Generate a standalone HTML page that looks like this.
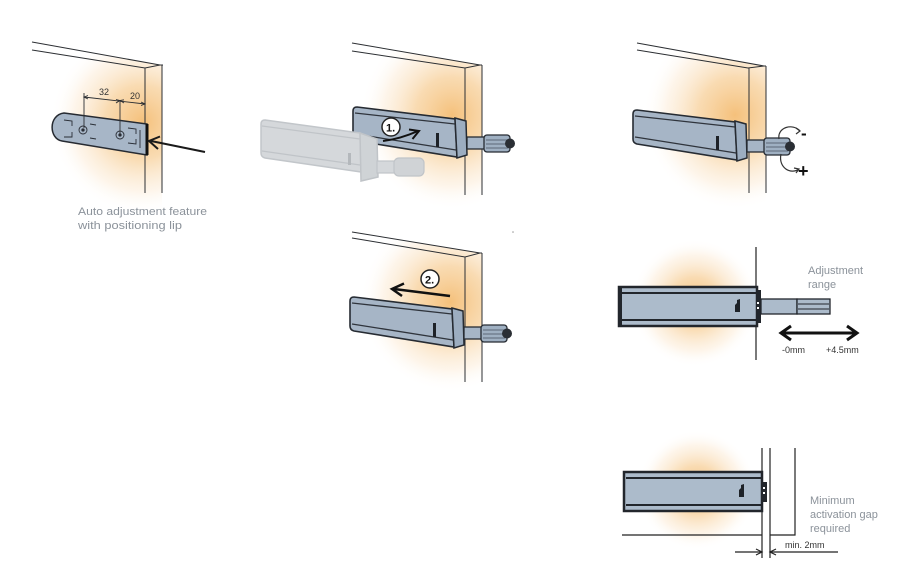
<!DOCTYPE html>
<html><head><meta charset="utf-8">
<style>
html,body{margin:0;padding:0;background:#fff;}
svg{display:block;}
text{font-family:"Liberation Sans",sans-serif;}
</style></head>
<body>
<svg width="900" height="562" viewBox="0 0 900 562" xmlns="http://www.w3.org/2000/svg">
<defs>
  <radialGradient id="glow" cx="50%" cy="50%" r="50%">
    <stop offset="0%" stop-color="#f4bd74" stop-opacity="0.95"/>
    <stop offset="40%" stop-color="#f7cf98" stop-opacity="0.75"/>
    <stop offset="75%" stop-color="#fbe6cb" stop-opacity="0.4"/>
    <stop offset="100%" stop-color="#ffffff" stop-opacity="0"/>
  </radialGradient>
  <clipPath id="c1"><polygon points="0,36 160,65 162,65 162,230 0,230"/></clipPath>
  <clipPath id="c2"><polygon points="250,25 480,65 482,65 482,230 250,230"/></clipPath>
  <clipPath id="c3"><polygon points="560,29 764,66 766,66 766,230 560,230"/></clipPath>
  <clipPath id="c4"><polygon points="250,215 480,253 482,253 482,400 250,400"/></clipPath>
  <clipPath id="c5"><rect x="600" y="230" width="156" height="150"/></clipPath>
  <clipPath id="c6"><rect x="600" y="420" width="162" height="142"/></clipPath>

  <g id="dev">
    <path d="M357,107 L455,119 L457,157 L357,141 Q353,140 353,136 L353,111 Q353,107 357,107 Z" fill="#a6b5c6" stroke="#262b32" stroke-width="1.6"/>
    <path d="M355,113 L455,124" stroke="#2f343c" stroke-width="1.3" fill="none"/>
    <path d="M355,134 L456,150" stroke="#2f343c" stroke-width="1.3" fill="none"/>
    <path d="M455,118 L466,121 L467,155 L457,158 Z" fill="#9cadc0" stroke="#262b32" stroke-width="1.5"/>
    <rect x="436" y="133" width="3" height="14" fill="#1e2228"/>
    <rect x="467" y="137" width="18" height="12" fill="#a6b5c6" stroke="#262b32" stroke-width="1.3"/>
    <rect x="484" y="135" width="26" height="17" rx="3" fill="#9fb0c2" stroke="#262b32" stroke-width="1.3"/>
    <path d="M486,140 L508,140 M486,144 L508,144 M486,148 L508,148" stroke="#4a5260" stroke-width="0.8"/>
    <circle cx="510" cy="143.5" r="5" fill="#2a2e34"/>
  </g>
</defs>

<!-- glows -->
<ellipse cx="142" cy="122" rx="92" ry="92" fill="url(#glow)" clip-path="url(#c1)"/>
<ellipse cx="452" cy="115" rx="92" ry="95" fill="url(#glow)" clip-path="url(#c2)"/>
<ellipse cx="735" cy="115" rx="92" ry="95" fill="url(#glow)" clip-path="url(#c3)"/>
<ellipse cx="450" cy="302" rx="90" ry="90" fill="url(#glow)" clip-path="url(#c4)"/>
<circle cx="695" cy="303" r="64" fill="url(#glow)" clip-path="url(#c5)"/>
<circle cx="697" cy="490" r="60" fill="url(#glow)" clip-path="url(#c6)"/>

<g stroke="#2c2f33" stroke-width="1" fill="none">
  <!-- panel 1 -->
  <path d="M32,42 L160,65 L163,65 M32,50 L145,68 L160,65 M145,68 L145,193 M162,65 L162,193"/>
  <!-- panel 2 -->
  <path d="M352,43 L480,65 L482,65 M352,51 L465,68 L480,65 M465,68 L465,195 M482,65 L482,195"/>
  <!-- panel 3 -->
  <path d="M637,43 L764,66 L766,66 M637,50 L748,68 L764,66 M749,68 L749,193 M766,66 L766,193"/>
  <!-- panel 4 -->
  <path d="M352,232 L480,253 L482,253 M352,238 L465,257 L480,253 M465,257 L465,382 M482,253 L482,382"/>
</g>

<!-- panel 1 plate -->
<path d="M64,113 L147,124 L147,155 L62,141 C49,139 48,115 64,113 Z" fill="#a7b6c7" stroke="#262a31" stroke-width="1.5"/>
<line x1="147" y1="124" x2="147" y2="155" stroke="#111" stroke-width="3"/>
<g stroke="#2a2e36" stroke-width="0.9" fill="none">
  <circle cx="83" cy="130" r="4"/><circle cx="83" cy="130" r="1.2" fill="#2a2e36"/>
  <circle cx="120" cy="135" r="4"/><circle cx="120" cy="135" r="1.2" fill="#2a2e36"/>
  <path d="M64,120 L72,121 L72,126 M64,137 L72,137 L72,132 M90,124 L96,125 M90,138 L96,139"/>
  <path d="M128,128 L136,129 L136,134 M128,143 L136,144 L136,139 M140,130 L140,148"/>
</g>
<g stroke="#2c2f33" stroke-width="0.9" fill="none">
  <path d="M84,93 L84,128 M120,101 L120,135 M84,97 L145,104"/>
  <path d="M88,95.5 L84,97 L88,99 M116,99.5 L120,100.5 L116,103 M124,99.8 L120,100.5 L124,103 M141,102 L145,104 L141,105.5"/>
</g>
<text x="99" y="95" font-size="9" fill="#333">32</text>
<text x="130" y="99" font-size="9" fill="#333">20</text>
<g stroke="#1a1a1a" stroke-width="2" fill="none">
  <path d="M205,152 L151,141"/>
  <polyline points="160,136.5 149,141 158,149"/>
</g>
<text x="78" y="215" font-size="11" fill="#8b929a" textLength="129" lengthAdjust="spacingAndGlyphs">Auto adjustment feature</text>
<text x="78" y="229" font-size="11" fill="#8b929a" textLength="104" lengthAdjust="spacingAndGlyphs">with positioning lip</text>

<!-- panel 2 devices -->
<use href="#dev"/>
<g>
  <path d="M265,120 L360,133 L361,172 L265,158 Q261,157 261,153 L261,124 Q261,120 265,120 Z" fill="#d5d8db" stroke="#c2c6ca" stroke-width="1.5"/>
  <path d="M262,126 L360,139 M262,151 L360,165" stroke="#c0c4c8" stroke-width="1.2"/>
  <path d="M360,133 L377,139 L378,177 L361,181 Z" fill="#cfd3d6" stroke="#c0c4c8" stroke-width="1.5"/>
  <rect x="348" y="153" width="3" height="12" fill="#b4b8bc"/>
  <rect x="377" y="161" width="18" height="12" fill="#d5d8db" stroke="#c0c4c8" stroke-width="1.2"/>
  <rect x="394" y="158" width="30" height="18" rx="5" fill="#d0d3d6" stroke="#c0c4c8" stroke-width="1.2"/>
</g>
<circle cx="391" cy="127" r="9" fill="#fff" stroke="#222" stroke-width="1.5"/>
<text x="386" y="131.5" font-size="11" font-weight="bold" fill="#111">1.</text>
<g stroke="#111" stroke-width="2" fill="none">
  <path d="M383,141 Q400,139 418,131"/>
  <polyline points="409,129.5 419,131 412.5,139"/>
</g>

<!-- panel 3 device -->
<use href="#dev" transform="translate(280,3)"/>
<g stroke="#333" stroke-width="1.2" fill="none">
  <path d="M779,139 C777,127 793,123 800,131"/>
  <polyline points="796,128 800,131 796,134"/>
  <path d="M781,154 C778,168 791,175 799,169"/>
  <polyline points="794,168 799,169 796,173"/>
</g>
<text x="801" y="139" font-size="17" font-weight="bold" fill="#111">-</text>
<text x="798" y="177" font-size="18" font-weight="bold" fill="#111">+</text>

<!-- panel 4 device -->
<use href="#dev" transform="translate(-3,190)"/>
<circle cx="430" cy="279" r="9" fill="#fff" stroke="#222" stroke-width="1.5"/>
<text x="425" y="283.5" font-size="11" font-weight="bold" fill="#111">2.</text>
<g stroke="#111" stroke-width="2.5" fill="none">
  <path d="M450,296 L394,289"/>
  <polyline points="404,283.5 392,289 402,296"/>
</g>

<!-- panel 5 side view -->
<line x1="756" y1="247" x2="756" y2="360" stroke="#222" stroke-width="1.2"/>
<rect x="619" y="287" width="138" height="39" fill="#acbbcb" stroke="#22262c" stroke-width="2.5"/>
<rect x="619" y="287" width="3" height="39" fill="#22262c"/>
<line x1="621" y1="293" x2="756" y2="293" stroke="#22262c" stroke-width="2"/>
<line x1="621" y1="320" x2="756" y2="320" stroke="#22262c" stroke-width="2"/>
<rect x="756" y="290" width="5" height="33" fill="#22262c"/>
<rect x="757" y="302" width="2" height="2" fill="#fff"/><rect x="757" y="307" width="2" height="2" fill="#fff"/>
<path d="M737,300 L740,299 L740,312 L735,312 L735,305 L737,303 Z" fill="#1e2228"/>
<rect x="761" y="299" width="36" height="15" fill="#acbbcb" stroke="#22262c" stroke-width="1.3"/>
<rect x="797" y="299" width="33" height="15" fill="#acbbcb" stroke="#22262c" stroke-width="1.3"/>
<path d="M798,304 L829,304 M798,309 L829,309" stroke="#22262c" stroke-width="0.9"/>
<text x="808" y="274" font-size="11" fill="#8b929a">Adjustment</text>
<text x="808" y="288" font-size="11" fill="#8b929a">range</text>
<g stroke="#111" stroke-width="3" fill="none">
  <path d="M781,333 L857,333"/>
  <polyline points="791,326 781,333 791,340"/>
  <polyline points="847,326 857,333 847,340"/>
</g>
<text x="782" y="353" font-size="9" fill="#333">-0mm</text>
<text x="826" y="353" font-size="9" fill="#333">+4.5mm</text>

<!-- panel 6 side view -->
<g stroke="#222" stroke-width="1.2" fill="none">
  <path d="M762,448 L762,558 M770,448 L770,558 M795,448 L795,535 L770,535 M622,535 L762,535"/>
  <path d="M735,552 L762,552 M770,552 L838,552"/>
  <polyline points="756,549 762,552 756,555"/>
  <polyline points="776,549 770,552 776,555"/>
</g>
<rect x="624" y="472" width="138" height="39" fill="#acbbcb" stroke="#22262c" stroke-width="2.5"/>
<line x1="626" y1="478" x2="761" y2="478" stroke="#22262c" stroke-width="2"/>
<line x1="626" y1="505" x2="761" y2="505" stroke="#22262c" stroke-width="2"/>
<rect x="762" y="482" width="5" height="20" fill="#22262c"/>
<rect x="763" y="487" width="2" height="2" fill="#fff"/><rect x="763" y="492" width="2" height="2" fill="#fff"/>
<path d="M741,485 L744,484 L744,497 L739,497 L739,490 L741,488 Z" fill="#1e2228"/>
<text x="810" y="504" font-size="11" fill="#8b929a">Minimum</text>
<text x="810" y="518" font-size="11" fill="#8b929a">activation gap</text>
<text x="810" y="532" font-size="11" fill="#8b929a">required</text>
<text x="785" y="548" font-size="9" fill="#333">min. 2mm</text>

<circle cx="513" cy="232" r="0.8" fill="#999"/>
</svg>
</body></html>
